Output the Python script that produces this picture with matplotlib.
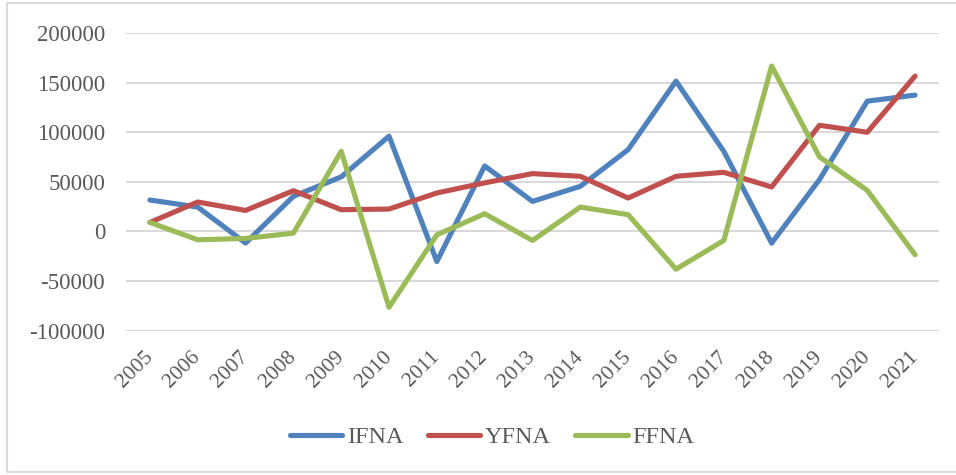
import matplotlib
matplotlib.use("Agg")
import matplotlib.pyplot as plt
from matplotlib.patches import Rectangle

years = [str(y) for y in range(2005, 2022)]
ifna = [31700, 24600, -11700, 35400, 55000, 96000, -30300, 66000, 30300, 45500,
        82500, 151500, 80800, -11700, 52200, 131300, 137400]
yfna = [9100, 29700, 21200, 41100, 21900, 22600, 38800, 49000, 58300, 55600,
        33700, 55600, 59600, 44800, 107000, 100000, 156600]
ffna = [9100, -8400, -7000, -1700, 80800, -76400, -3400, 17900, -9100, 24600,
        16900, -38000, -9100, 166700, 75200, 41400, -23500]

series = [("IFNA", ifna, "#4F81BD"), ("YFNA", yfna, "#C0504D"), ("FFNA", ffna, "#9BBB59")]
yticks = [-100000, -50000, 0, 50000, 100000, 150000, 200000]

plt.rcParams["font.family"] = ["Liberation Serif", "DejaVu Serif"]
text_color = "#595959"
grid_color = "#D9D9D9"

fig = plt.figure(figsize=(9.56, 4.75), dpi=100)
ax = fig.add_axes([126 / 956, 1 - 330.7 / 475, (939 - 126) / 956, (330.7 - 33) / 475])

x = list(range(len(years)))
for name, vals, color in series:
    ax.plot(x, vals, color=color, lw=3.7, label=name, solid_joinstyle="round",
            solid_capstyle="round", zorder=3)

ax.set_xlim(-0.5, len(years) - 0.5)
ax.set_ylim(-100000, 200000)
ax.set_yticks(yticks)
ax.set_yticklabels([str(v) for v in yticks])
ax.set_xticks(x)
ax.set_xticklabels(years, rotation=45, ha="right", va="center", rotation_mode="anchor")

ax.yaxis.grid(True, color=grid_color, lw=1.5, zorder=0)
ax.xaxis.grid(False)
for s in ax.spines.values():
    s.set_visible(False)
ax.tick_params(axis="y", length=0, pad=15, labelsize=16.5, labelcolor=text_color)
ax.tick_params(axis="x", length=0, pad=17, labelsize=15.5, labelcolor=text_color)

leg = fig.legend(loc="center", bbox_to_anchor=(0.515, 1 - 437 / 475), ncol=3, frameon=False,
                 fontsize=17.5, handlelength=2.15, handletextpad=0.2, columnspacing=1.0,
                 borderpad=0.2)
for t in leg.get_texts():
    t.set_color(text_color)

fig.patches.append(Rectangle((7 / 956, 3 / 475), (960 - 7) / 956, (472.5 - 3) / 475,
                             transform=fig.transFigure, fill=False,
                             edgecolor=grid_color, lw=1.5))

fig.savefig("out.png", dpi=100)
